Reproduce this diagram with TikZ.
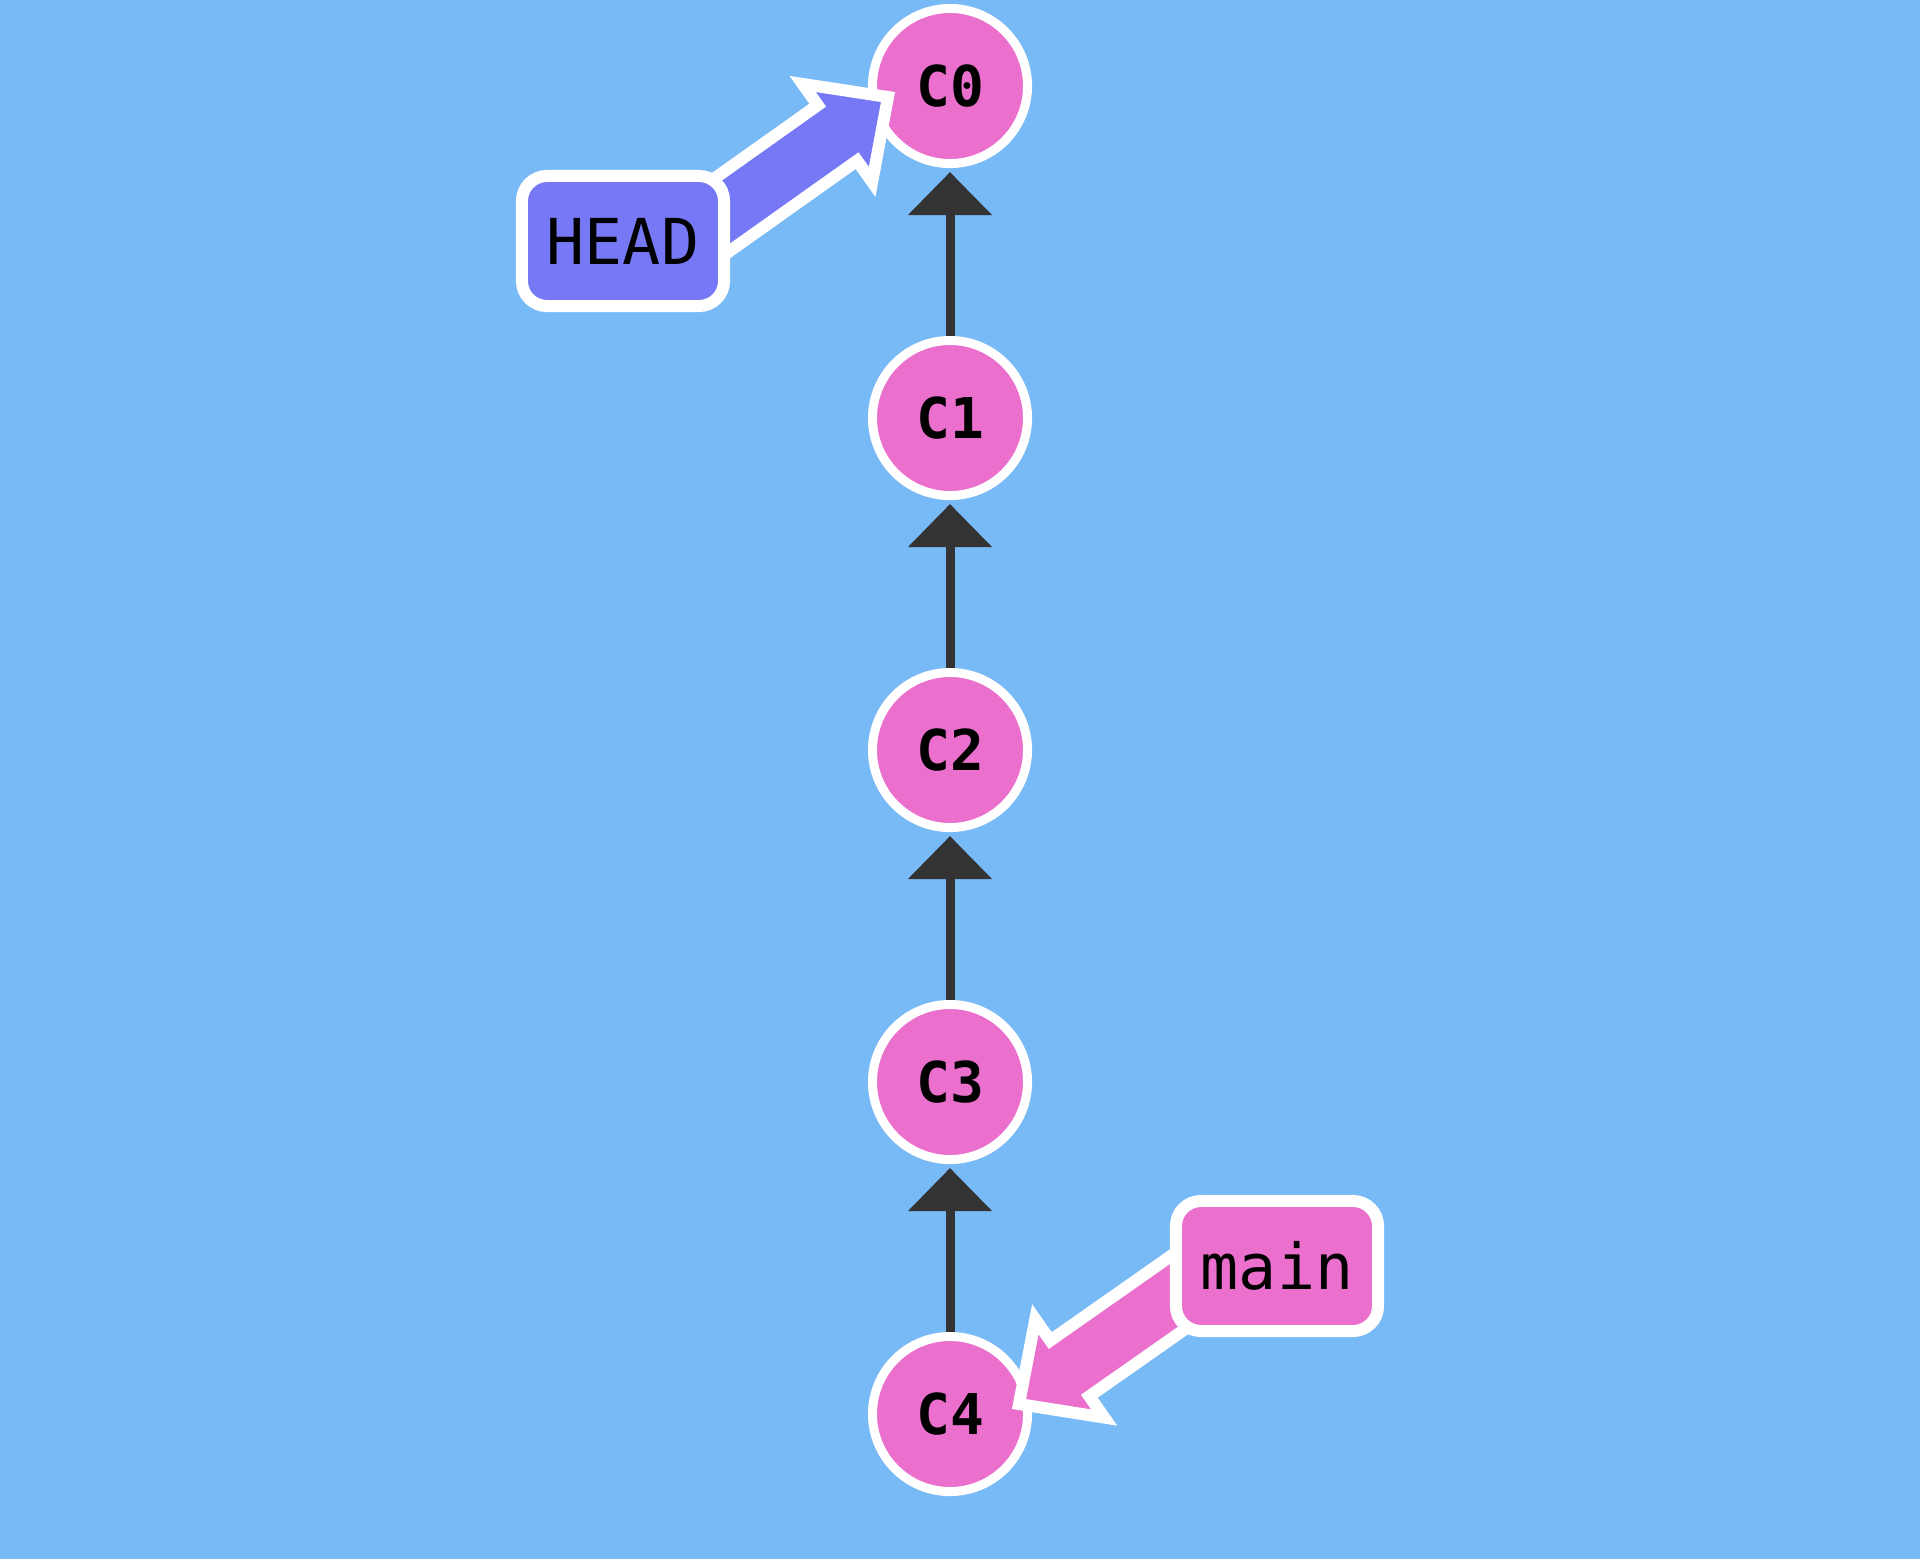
\documentclass[tikz,border=0pt]{standalone}
\usepackage{fontspec}
\setmonofont{DejaVu Sans Mono}
\usetikzlibrary{arrows.meta,calc}
\definecolor{sky}{HTML}{78BAF6}
\definecolor{commitpink}{HTML}{EB70CE}
\definecolor{headblue}{HTML}{7678F6}
\definecolor{edge}{HTML}{333333}
\pgfdeclarelayer{pointers}
\pgfdeclarelayer{tags}
\pgfsetlayers{main,pointers,tags}
\newcommand{\pointer}[3]{%
  \coordinate (pb) at ($(#2)!0.62cm!(#1)$);
  \draw[fill=#3, draw=white, line width=0.12cm, line join=miter]
    ($(#1)!0.34cm!90:(#2)$) -- ($(pb)!0.34cm!90:(#2)$) -- ($(pb)!0.60cm!90:(#2)$) -- (#2)
    -- ($(pb)!0.60cm!-90:(#2)$) -- ($(pb)!0.34cm!-90:(#2)$) -- ($(#1)!0.34cm!-90:(#2)$) -- cycle;
}

\begin{document}
\begin{tikzpicture}[x=0.01cm, y=-0.01cm,
    commit/.style={circle, draw=white, fill=commitpink, line width=0.09cm, minimum size=1.55cm, inner sep=0pt, font=\ttfamily\bfseries\fontsize{16pt}{16pt}\selectfont},
    tag/.style={draw=white, rounded corners=0.25cm, line width=0.12cm, minimum width=2.02cm, minimum height=1.30cm, inner sep=0pt, font=\ttfamily\fontsize{18pt}{18pt}\selectfont},
    link/.style={edge, line width=0.09cm, shorten >=0.04cm, -{Triangle[width=0.82cm,length=0.43cm]}}]
  \fill[sky] (0,0) rectangle (1920,1559);
  % commits, newest at the bottom
  \foreach \i in {0,...,4}
    \node[commit] (c\i) at (950,86+332*\i) {C\i};
  \foreach \a/\b in {1/0,2/1,3/2,4/3}
    \draw[link] (c\a) -- (c\b);
  \begin{pgfonlayer}{tags}
    \node[tag, fill=headblue] (headtag) at (623,241) {HEAD};
    \node[tag, fill=commitpink] (maintag) at (1277,1266) {main};
  \end{pgfonlayer}
  \coordinate (headtail) at ($(headtag)+(17,32)$);
  \coordinate (headtip) at ($(c0)+(-62,11)$);
  \coordinate (maintail) at ($(maintag)+(-17,-31)$);
  \coordinate (maintip) at ($(c4)+(69,-10)$);
  \begin{pgfonlayer}{pointers}
    \pointer{headtail}{headtip}{headblue}
    \pointer{maintail}{maintip}{commitpink}
  \end{pgfonlayer}
\end{tikzpicture}
\end{document}
